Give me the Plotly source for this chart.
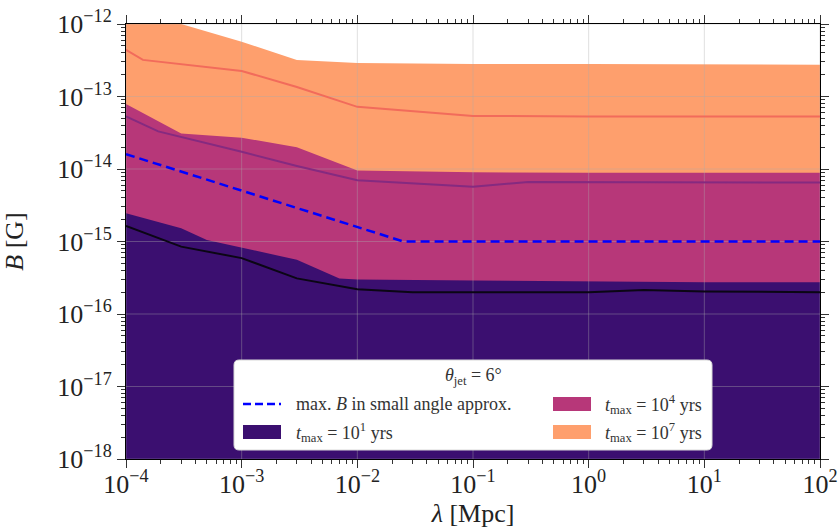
import plotly.graph_objects as go

# ---------------- data ----------------
lam_o_up = [1e-4, 3e-4, 1e-3, 3e-3, 1e-2, 1e-1, 1e0, 1e1, 1e2]
B_o_up = [1.25e-12, 1.0e-12, 5.7e-13, 3.2e-13, 2.9e-13, 2.8e-13, 2.8e-13, 2.75e-13, 2.75e-13]

lam_o_med = [1e-4, 1.4e-4, 1e-3, 3e-3, 1e-2, 1e-1, 1e0, 1e1, 1e2]
B_o_med = [4.4e-13, 3.2e-13, 2.25e-13, 1.35e-13, 7.2e-14, 5.4e-14, 5.3e-14, 5.3e-14, 5.3e-14]

lam_m_up = [1e-4, 3e-4, 1e-3, 3e-3, 1e-2, 1e-1, 1e0, 1e1, 1e2]
B_m_up = [7.9e-14, 3.1e-14, 2.7e-14, 2.0e-14, 9.5e-15, 9.0e-15, 8.9e-15, 8.9e-15, 8.9e-15]

lam_m_med = [1e-4, 1.9e-4, 1e-3, 3e-3, 1e-2, 1e-1, 3e-1, 1e0, 1e1, 1e2]
B_m_med = [5.3e-14, 3.3e-14, 1.73e-14, 1.1e-14, 7.0e-15, 5.7e-15, 6.6e-15, 6.6e-15, 6.5e-15, 6.5e-15]

lam_d_up = [1e-4, 3e-4, 5e-4, 1e-3, 3e-3, 7e-3, 1e-2, 1e-1, 1e0, 1e1, 1e2]
B_d_up = [2.45e-15, 1.52e-15, 1.05e-15, 8.3e-16, 5.6e-16, 3.1e-16, 3.0e-16, 2.9e-16, 2.8e-16, 2.75e-16, 2.75e-16]

lam_d_med = [1e-4, 3e-4, 1e-3, 3e-3, 1e-2, 3e-2, 1e-1, 1e0, 3e0, 1e1, 1e2]
B_d_med = [1.64e-15, 8.5e-16, 5.9e-16, 3.1e-16, 2.2e-16, 2.0e-16, 2.0e-16, 2.0e-16, 2.15e-16, 2.05e-16, 2.0e-16]

lam_small = [1e-4, 2.5e-2, 1e2]
B_small = [1.6e-14, 1.0e-15, 1.0e-15]

B_floor = 1e-20

x_tickvals = [1e-4, 1e-3, 1e-2, 1e-1, 1e0, 1e1, 1e2]
x_ticktext = ["10<sup>−4</sup>", "10<sup>−3</sup>", "10<sup>−2</sup>", "10<sup>−1</sup>",
              "10<sup>0</sup>", "10<sup>1</sup>", "10<sup>2</sup>"]
y_tickvals = [1e-18, 1e-17, 1e-16, 1e-15, 1e-14, 1e-13, 1e-12]
y_ticktext = ["10<sup>−18</sup>", "10<sup>−17</sup>", "10<sup>−16</sup>", "10<sup>−15</sup>",
              "10<sup>−14</sup>", "10<sup>−13</sup>", "10<sup>−12</sup>"]

legend_title = "<i>θ</i><sub>jet</sub> = 6°"
names = {
    "small": "max. <i>B</i> in small angle approx.",
    "d": "<i>t</i><sub>max</sub> = 10<sup>1</sup> yrs",
    "m": "<i>t</i><sub>max</sub> = 10<sup>4</sup> yrs",
    "o": "<i>t</i><sub>max</sub> = 10<sup>7</sup> yrs",
}

C_DARK = "#3b0f70"
C_MAG = "#b73779"
C_ORA = "#fe9f6d"
C_BLUE = "#0000ff"
GRID = "rgba(170,170,170,0.38)"
SERIF = "Liberation Serif"

# ---------------- figure geometry (pixels) ----------------
W, H = 839, 528
ML, MR, MT, MB = 126, 19, 24, 69
PW, PH = W - ML - MR, H - MT - MB


def px(x):
    return (x - ML) / PW


def py(y):
    return (H - MB - y) / PH


def minor_vals(lo, hi):
    out = []
    for e in range(lo, hi):
        for k in range(2, 10):
            out.append(k * 10.0 ** e)
    return out


fig = go.Figure()


def band(lam, B, color, name):
    xs = list(lam) + [lam[-1], lam[0]]
    ys = list(B) + [B_floor, B_floor]
    fig.add_trace(go.Scatter(x=xs, y=ys, mode="lines", fill="toself",
                             fillcolor=color, line=dict(width=0, color=color),
                             name=name, showlegend=False, hoverinfo="skip"))


band(lam_o_up, B_o_up, C_ORA, names["o"])
band(lam_m_up, B_m_up, C_MAG, names["m"])
band(lam_d_up, B_d_up, C_DARK, names["d"])

# grid lines drawn over the filled bands (as in the reference)
gx, gy = [], []
for tv in x_tickvals:
    gx += [tv, tv, None]
    gy += [y_tickvals[0], y_tickvals[-1], None]
for tv in y_tickvals:
    gx += [x_tickvals[0], x_tickvals[-1], None]
    gy += [tv, tv, None]
fig.add_trace(go.Scatter(x=gx, y=gy, mode="lines", line=dict(color=GRID, width=1),
                         showlegend=False, hoverinfo="skip"))

fig.add_trace(go.Scatter(x=lam_o_med, y=B_o_med, mode="lines",
                         line=dict(color="#f26b5b", width=2), showlegend=False))
fig.add_trace(go.Scatter(x=lam_m_med, y=B_m_med, mode="lines",
                         line=dict(color="#852a80", width=2), showlegend=False))
fig.add_trace(go.Scatter(x=lam_d_med, y=B_d_med, mode="lines",
                         line=dict(color="#0b0614", width=2), showlegend=False))
fig.add_trace(go.Scatter(x=lam_small, y=B_small, mode="lines",
                         line=dict(color=C_BLUE, width=2.5, dash="9px,5px"),
                         name=names["small"], showlegend=False))

axis_common = dict(
    type="log", showline=True, linecolor="black", linewidth=1, mirror="ticks",
    ticks="outside", ticklen=8, tickwidth=1, tickcolor="#333",
    showgrid=False, zeroline=False, automargin=False,
    tickfont=dict(family=SERIF, size=26, color="#222"),
)

fig.update_xaxes(**axis_common, range=[-4, 2], tickvals=x_tickvals, ticktext=x_ticktext,
                 ticklabelstandoff=-6,
                 minor=dict(tickvals=minor_vals(-4, 2), ticks="outside", ticklen=4,
                            tickcolor="#333", showgrid=False),
                 title=dict(text="<i>λ</i> [Mpc]", font=dict(family=SERIF, size=26, color="#222"),
                            standoff=2))
fig.update_yaxes(**axis_common, range=[-18, -12], tickvals=y_tickvals, ticktext=y_ticktext,
                 minor=dict(tickvals=minor_vals(-18, -12), ticks="outside", ticklen=4,
                            tickcolor="#333", showgrid=False),
                 title=dict(text="<i>B</i> [G]", font=dict(family=SERIF, size=26, color="#222"),
                            standoff=26))

# ---------------- legend box (drawn by hand: 2 columns, wide patches) ----------------
bx0, bx1, by0, by1, r = 234, 712, 360, 450, 5
rx, ry = r / PW, r / PH
X0, X1, Y0, Y1 = px(bx0), px(bx1), py(by1), py(by0)
box_path = (f"M{X0 + rx},{Y0} L{X1 - rx},{Y0} Q{X1},{Y0} {X1},{Y0 + ry} "
            f"L{X1},{Y1 - ry} Q{X1},{Y1} {X1 - rx},{Y1} L{X0 + rx},{Y1} "
            f"Q{X0},{Y1} {X0},{Y1 - ry} L{X0},{Y0 + ry} Q{X0},{Y0} {X0 + rx},{Y0} Z")

shapes = [dict(type="path", path=box_path, xref="paper", yref="paper",
               fillcolor="white", line=dict(color="#d8d8d8", width=1), layer="above")]


def patch(x0, yc, color):
    shapes.append(dict(type="rect", xref="paper", yref="paper",
                       x0=px(x0), x1=px(x0 + 38), y0=py(yc + 7), y1=py(yc - 7),
                       fillcolor=color, line=dict(width=0), layer="above"))


shapes.append(dict(type="line", xref="paper", yref="paper",
                   x0=px(243), x1=px(281), y0=py(404), y1=py(404),
                   line=dict(color=C_BLUE, width=2.5, dash="8px,4px"), layer="above"))
patch(243, 432, C_DARK)
patch(553, 404, C_MAG)
patch(553, 432, C_ORA)

leg_font = dict(family=SERIF, size=18, color="#333")
annotations = [dict(text=legend_title, xref="paper", yref="paper", x=px(473), y=py(376),
                    xanchor="center", yanchor="middle", showarrow=False, font=leg_font)]
for (tx, ty, key) in [(294, 404, "small"), (294, 432, "d"), (603, 404, "m"), (603, 432, "o")]:
    annotations.append(dict(text=names[key], xref="paper", yref="paper", x=px(tx), y=py(ty),
                            xanchor="left", yanchor="middle", showarrow=False, font=leg_font))

fig.update_layout(
    width=W, height=H,
    margin=dict(l=ML, r=MR, t=MT, b=MB),
    paper_bgcolor="white", plot_bgcolor="white",
    font=dict(family=SERIF, color="#222"),
    showlegend=False,
    shapes=shapes,
    annotations=annotations,
)

fig.write_html("out.html")
